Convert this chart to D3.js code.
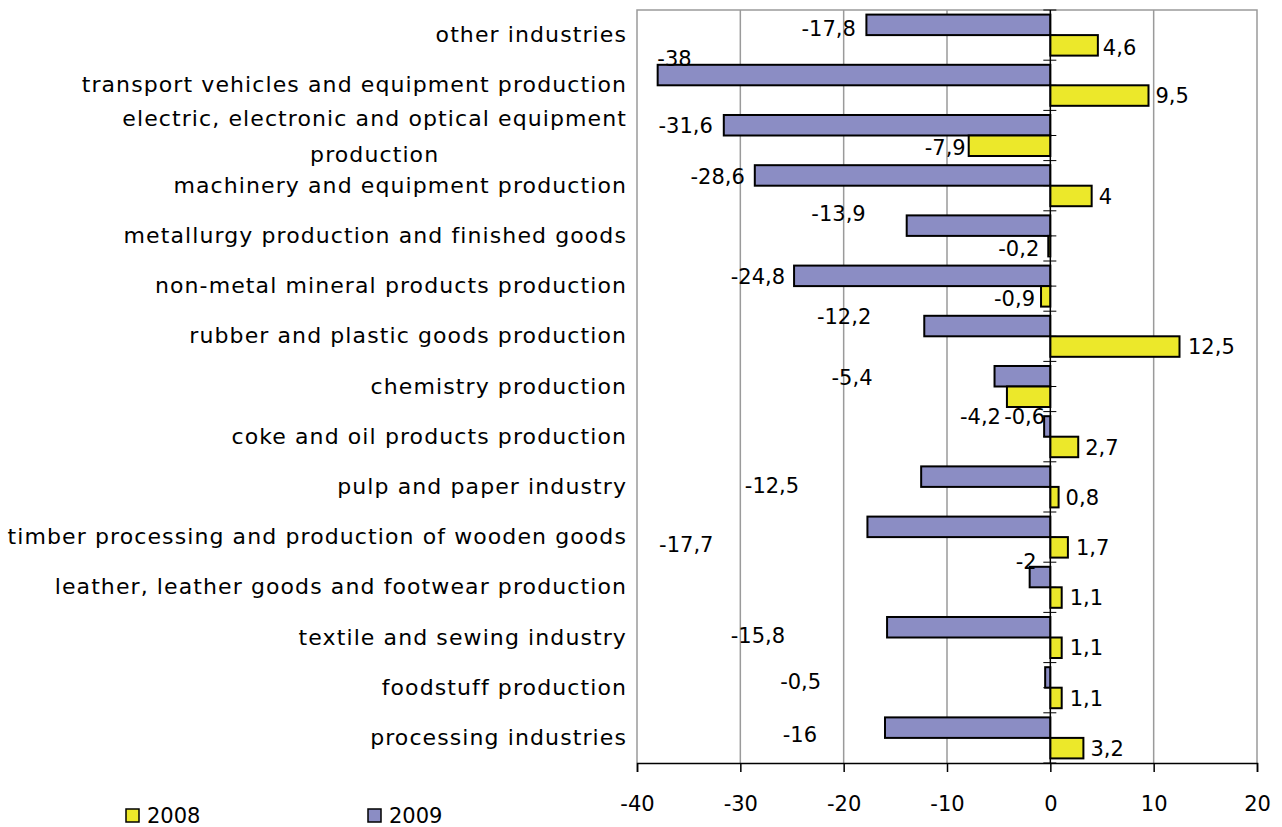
<!DOCTYPE html>
<html>
<head>
<meta charset="utf-8">
<script src="https://cdn.jsdelivr.net/npm/d3@7"></script>
<style>
  body { margin: 0; background: #fff; }
  text { font-family: "DejaVu Sans", Verdana, sans-serif; fill: #000; }
</style>
</head>
<body>
<svg id="chart" width="1282" height="827"></svg>
<script>
// Industry branches, top to bottom
const categories = [
  "other industries",
  "transport vehicles and equipment production",
  "electric, electronic and optical equipment production",
  "machinery and equipment production",
  "metallurgy production and finished goods",
  "non-metal mineral products production",
  "rubber and plastic goods production",
  "chemistry production",
  "coke and oil products production",
  "pulp and paper industry",
  "timber processing and production of wooden goods",
  "leather, leather goods and footwear production",
  "textile and sewing industry",
  "foodstuff production",
  "processing industries"
];

const seriesNames = ["2009", "2008"];
const values2009 = [-17.8, -38, -31.6, -28.6, -13.9, -24.8, -12.2, -5.4, -0.6, -12.5, -17.7, -2, -15.8, -0.5, -16];
const values2008 = [4.6, 9.5, -7.9, 4, -0.2, -0.9, 12.5, -4.2, 2.7, 0.8, 1.7, 1.1, 1.1, 1.1, 3.2];
const xTicks = [-40, -30, -20, -10, 0, 10, 20];
const legendOrder = ["2008", "2009"];

// Hand-placed value labels: [dx, dy] nudges from the default spot next to the bar end
const labelNudge2009 = [[-1.5, 4], [43, -16.5], [-2, 0], [-1, 1], [-32, -12.6], [0, 1], [-44, -9.3], [-113, 1],
                        [10, -9.7], [-113, 8.4], [-145, 18], [16, -15.3], [-93, 8], [-215, 4.3], [-59, 7]];
const labelNudge2008 = [[-2, 2], [0, 0], [6, 2], [0, 0], [0, 2], [3, 2], [1.5, 0], [3, 20],
                        [0, 0], [0, 0], [1, 0], [1, 0], [1, 0], [1, 0], [0, 0]];

const colors = { "2009": "#8b8dc4", "2008": "#ece82a" };

const svg = d3.select("#chart");
const plot = { left: 637, right: 1257, top: 10, bottom: 763 };

const x = d3.scaleLinear().domain([-40, 20]).range([plot.left, plot.right]);
const y = d3.scaleBand().domain(categories).range([plot.top, plot.bottom]).padding(0);
const ySub = d3.scaleBand().domain(seriesNames).range([0, y.bandwidth()]).paddingInner(0).paddingOuter(0.224);

const locale = d3.formatLocale({ decimal: ",", thousands: " ", grouping: [3], currency: ["", ""], minus: "-" });
const fmt = locale.format("~g");

// Vertical gridlines
svg.append("g")
  .selectAll("line")
  .data(xTicks.filter(t => t !== 0 && t !== -40 && t !== 20))
  .join("line")
  .attr("x1", d => x(d)).attr("x2", d => x(d))
  .attr("y1", plot.top).attr("y2", plot.bottom)
  .attr("stroke", "#9a9a9a").attr("stroke-width", 1.5);

// Plot frame (left, top, right)
svg.append("path")
  .attr("d", `M${plot.left},${plot.bottom}V${plot.top}H${plot.right}V${plot.bottom}`)
  .attr("fill", "none").attr("stroke", "#9a9a9a").attr("stroke-width", 1.5);

// Category axis at zero, with ticks every half band
const halfTicks = d3.range(categories.length * 2 + 1).map(i => plot.top + i * y.bandwidth() / 2);
svg.append("g")
  .selectAll("line")
  .data(halfTicks)
  .join("line")
  .attr("x1", x(0) - 7).attr("x2", x(0) + 6)
  .attr("y1", d => d).attr("y2", d => d)
  .attr("stroke", "#000").attr("stroke-width", 1);

// Bars
const rows = [];
categories.forEach((c, i) => {
  rows.push({ cat: c, series: "2009", value: values2009[i], nudge: labelNudge2009[i] });
  rows.push({ cat: c, series: "2008", value: values2008[i], nudge: labelNudge2008[i] });
});

svg.append("g")
  .selectAll("rect")
  .data(rows)
  .join("rect")
  .attr("x", d => x(Math.min(0, d.value)))
  .attr("width", d => Math.abs(x(d.value) - x(0)))
  .attr("y", d => y(d.cat) + ySub(d.series))
  .attr("height", ySub.bandwidth())
  .attr("fill", d => colors[d.series])
  .attr("stroke", "#000").attr("stroke-width", 2);

// Zero line
svg.append("line")
  .attr("x1", x(0)).attr("x2", x(0))
  .attr("y1", plot.top).attr("y2", plot.bottom)
  .attr("stroke", "#000").attr("stroke-width", 1.5);

// Value axis
const xAxis = d3.axisBottom(x).tickValues(xTicks).tickFormat(fmt).tickSize(9).tickPadding(24);
const gx = svg.append("g").attr("transform", `translate(0,${plot.bottom})`).call(xAxis);
gx.select(".domain").attr("stroke", "#000").attr("stroke-width", 1.5);
gx.selectAll(".tick line").attr("stroke", "#000").attr("stroke-width", 1.5);
gx.selectAll(".tick text")
  .attr("font-size", 21)
  .style("font-family", '"DejaVu Sans", sans-serif')
  .attr("fill", "#000");

// Value labels
svg.append("g")
  .selectAll("text")
  .data(rows)
  .join("text")
  .attr("font-size", 21)
  .attr("text-anchor", d => d.value < 0 ? "end" : "start")
  .attr("x", d => x(d.value) + (d.value < 0 ? -9 : 7) + d.nudge[0])
  .attr("y", d => y(d.cat) + ySub(d.series) + ySub.bandwidth() / 2 + d.nudge[1])
  .attr("dy", "0.36em")
  .text(d => fmt(d.value));

// Category labels, wrapped and centred when too long
const catFont = 22, catSpacing = 1.1, maxLabelWidth = 660, labelRight = 627;
const catG = svg.append("g");
categories.forEach(c => {
  const t = catG.append("text")
    .attr("font-size", catFont)
    .attr("letter-spacing", catSpacing)
    .attr("text-anchor", "end");
  const words = c.split(" ");
  const lines = [];
  let line = [];
  words.forEach(w => {
    const trial = line.concat(w).join(" ");
    t.text(trial);
    if (t.node().getComputedTextLength() > maxLabelWidth && line.length) {
      lines.push(line.join(" "));
      line = [w];
    } else {
      line.push(w);
    }
  });
  lines.push(line.join(" "));
  t.text(null);
  const cy = y(c) + y.bandwidth() / 2;
  if (lines.length === 1 && c.indexOf("electric") !== 0) {
    t.attr("x", labelRight).attr("y", cy + 7).text(lines[0]);
  } else {
    // the electric equipment label breaks before its last word
    const parts = lines.length > 1 ? lines
      : [words.slice(0, -1).join(" "), words[words.length - 1]];
    const widths = parts.map(l => { t.text(l); return t.node().getComputedTextLength(); });
    t.text(null);
    const blockW = d3.max(widths);
    const mid = labelRight - blockW / 2;
    t.attr("text-anchor", "middle");
    parts.forEach((l, k) => {
      t.append("tspan")
        .attr("x", mid)
        .attr("y", cy + 7 - (parts.length - 1) * 16.5 + k * 36)
        .text(l);
    });
  }
});

// Legend
const legendX = { "2008": 126, "2009": 368 };
const lg = svg.append("g")
  .selectAll("g")
  .data(legendOrder)
  .join("g")
  .attr("transform", d => `translate(${legendX[d]},809)`);
lg.append("rect")
  .attr("width", 13).attr("height", 13)
  .attr("fill", d => colors[d])
  .attr("stroke", "#000").attr("stroke-width", 1.5);
lg.append("text")
  .attr("x", 21).attr("y", 14)
  .attr("font-size", 21)
  .text(d => d);
</script>
</body>
</html>
